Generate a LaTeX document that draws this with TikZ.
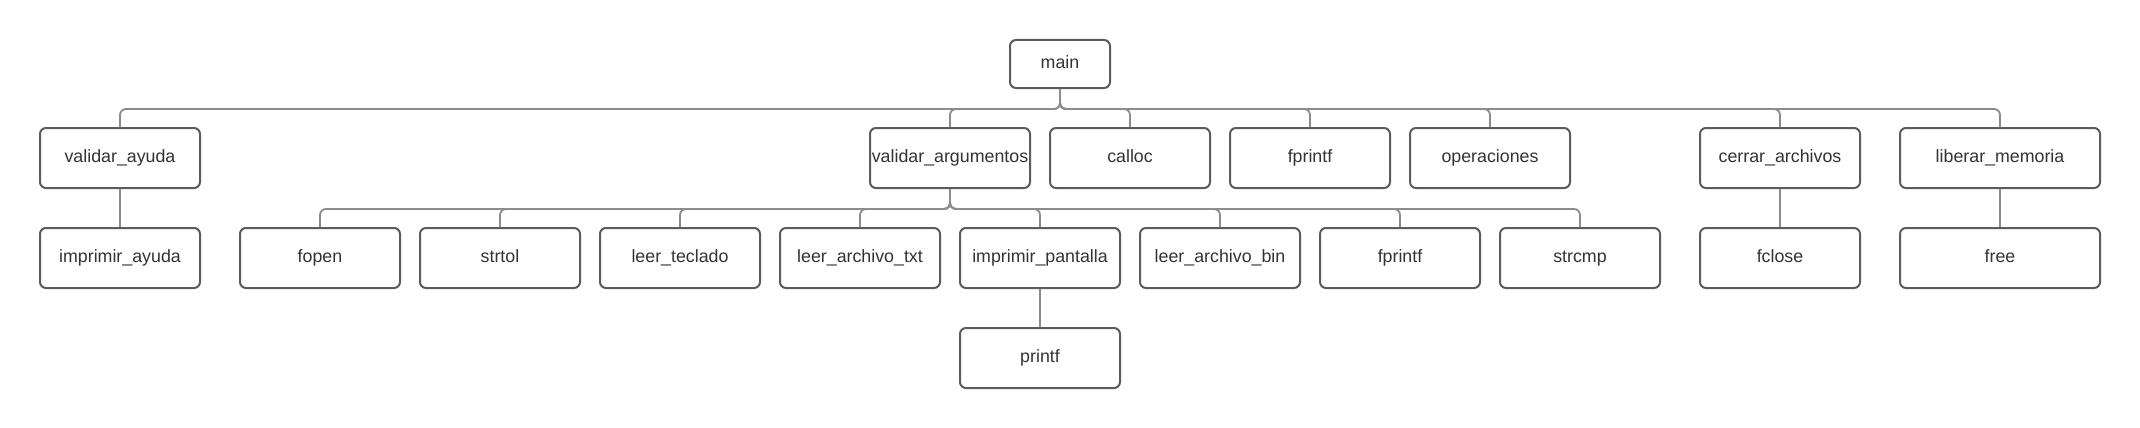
\documentclass[tikz,border=0pt]{standalone}
\usepackage{fontspec}
\setmainfont{Liberation Sans}
\begin{document}
\begin{tikzpicture}[x=1pt,y=-1pt,
  fbox/.style={draw=boxc, line width=2pt, rounded corners=6pt, fill=white,
    minimum width=160pt, minimum height=60pt, inner sep=0pt, text=txtc,
    text height=12.7pt, text depth=4pt,
    font=\fontsize{17.8}{20}\selectfont},
  conn/.style={draw=linec, line width=1.8pt, rounded corners=6pt},
]
\definecolor{boxc}{HTML}{5C5C5C}
\definecolor{linec}{HTML}{8C8C8C}
\definecolor{txtc}{HTML}{333333}
\useasboundingbox[fill=white] (0,0) rectangle (2140,428);
% nodes
\node[fbox, minimum width=100pt, minimum height=48pt] (main) at (1060,64) {main};
\node[fbox] (va) at (120,158) {validar\_ayuda};
\node[fbox] (varg) at (950,158) {\makebox[0pt]{validar\_argumentos}};
\node[fbox] (calloc) at (1130,158) {calloc};
\node[fbox] (fpa) at (1310,158) {fprintf};
\node[fbox] (oper) at (1490,158) {operaciones};
\node[fbox] (cerr) at (1780,158) {cerrar\_archivos};
\node[fbox, minimum width=200pt] (lib) at (2000,158) {liberar\_memoria};
\node[fbox] (ia) at (120,258) {imprimir\_ayuda};
\node[fbox] (fopen) at (320,258) {fopen};
\node[fbox] (strtol) at (500,258) {strtol};
\node[fbox] (leert) at (680,258) {leer\_teclado};
\node[fbox] (leertxt) at (860,258) {leer\_archivo\_txt};
\node[fbox] (ip) at (1040,258) {imprimir\_pantalla};
\node[fbox] (leerbin) at (1220,258) {leer\_archivo\_bin};
\node[fbox] (fpb) at (1400,258) {fprintf};
\node[fbox] (strcmp) at (1580,258) {strcmp};
\node[fbox] (fclose) at (1780,258) {fclose};
\node[fbox, minimum width=200pt] (free) at (2000,258) {free};
\node[fbox] (printf) at (1040,358) {printf};
% connectors from main
\foreach \c in {va,varg,calloc,fpa,oper,cerr,lib}{
  \path[conn] (main.south) -- ++(0,20) -| (\c.north);
}
\foreach \c in {fopen,strtol,leert,leertxt,ip,leerbin,fpb,strcmp}{
  \path[conn] (varg.south) -- ++(0,20) -| (\c.north);
}
\draw[conn] (va) -- (ia);
\draw[conn] (ip) -- (printf);
\draw[conn] (cerr) -- (fclose);
\draw[conn] (lib) -- (free);
\end{tikzpicture}
\end{document}
